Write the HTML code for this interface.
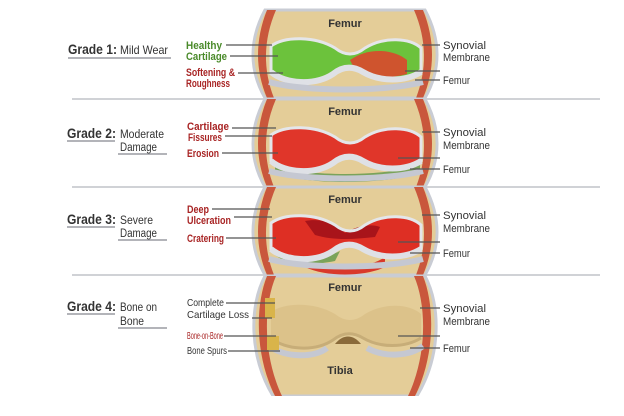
<!DOCTYPE html>
<html><head><meta charset="utf-8"><style>
html,body{margin:0;padding:0;background:#fff;width:624px;height:416px;overflow:hidden}
text{font-family:"Liberation Sans",sans-serif}
</style></head><body>
<svg width="624" height="416" viewBox="0 0 624 416" xmlns="http://www.w3.org/2000/svg">
<defs>
<path id="sil" d="M20,0 C4,30 4,60 20,88 L180,88 C196,60 196,30 180,0 Z"/>
<path id="redL" d="M22,0 C10,30 10,60 22,88 L29,88 C18,60 18,30 31,0 Z"/>
<path id="redR" d="M178,0 C190,30 190,60 178,88 L171,88 C182,60 182,30 169,0 Z"/>
<path id="cart" d="M26,36 C40,26 70,26 90,38 C100,46 110,46 120,38 C140,26 165,28 176,38 L176,62 C160,72 135,72 118,62 C108,56 98,56 88,64 C70,76 40,74 26,62 Z"/>
<path id="cartEdge" d="M26,62 C40,74 70,76 88,64 C98,56 108,56 118,62 C135,72 160,72 176,62" fill="none"/>
<path id="men" d="M24,72 C60,82 140,82 178,72" fill="none"/>
</defs>

<g stroke="#d0d2d6" stroke-width="2">
<line x1="72" y1="99" x2="600" y2="99"/>
<line x1="72" y1="187" x2="600" y2="187"/>
<line x1="72" y1="275" x2="600" y2="275"/>
</g>

<g transform="translate(245,10)">
<use href="#sil" fill="#e4cd98" stroke="#c9ccd4" stroke-width="3"/>
<use href="#redL" fill="#c9573c"/><use href="#redR" fill="#c9573c"/>
<use href="#cart" fill="#6cc23c"/>
<path d="M105,50 C125,36 150,40 162,50 L162,64 C140,70 122,66 110,60Z" fill="#e0412c" opacity="0.85"/>
<use href="#cart" fill="none" stroke="#e4e6ea" stroke-width="3"/>
<use href="#cartEdge" stroke="#dfe1e6" stroke-width="6"/>
<use href="#men" stroke="#c5c8d2" stroke-width="6"/>
<text x="100" y="17" font-size="11" font-weight="bold" text-anchor="middle" fill="#333">Femur</text>
</g>

<g transform="translate(245,99)">
<use href="#sil" fill="#e4cd98" stroke="#c9ccd4" stroke-width="3"/>
<use href="#redL" fill="#c9573c"/><use href="#redR" fill="#c9573c"/>
<path d="M30,66 C60,78 140,78 175,66 L175,74 C140,86 60,86 30,74Z" fill="#7aa35a"/>
<use href="#cart" fill="#e0362a"/>
<use href="#cart" fill="none" stroke="#e4e6ea" stroke-width="3"/>
<use href="#cartEdge" stroke="#dfe1e6" stroke-width="6"/>
<use href="#men" stroke="#c5c8d2" stroke-width="6"/>
<text x="100" y="16" font-size="11" font-weight="bold" text-anchor="middle" fill="#333">Femur</text>
</g>

<g transform="translate(245,187)">
<use href="#sil" fill="#e4cd98" stroke="#c9ccd4" stroke-width="3"/>
<use href="#redL" fill="#c9573c"/><use href="#redR" fill="#c9573c"/>
<path d="M60,70 C80,84 120,84 140,70 L140,80 C120,90 80,90 60,80Z" fill="#d9382a"/>
<path d="M30,60 C50,72 80,72 95,64 L90,74 C60,80 40,76 30,68Z" fill="#7aa35a"/>
<use href="#cart" fill="#de2f24"/>
<path d="M60,34 C80,30 95,40 100,46 C110,40 125,36 135,40 L130,50 C110,52 90,54 70,48Z" fill="#a8141a"/>
<use href="#cart" fill="none" stroke="#e4e6ea" stroke-width="3"/>
<use href="#cartEdge" stroke="#dfe1e6" stroke-width="6"/>
<use href="#men" stroke="#c5c8d2" stroke-width="6"/>
<text x="100" y="16" font-size="11" font-weight="bold" text-anchor="middle" fill="#333">Femur</text>
</g>

<g transform="translate(245,276)">
<path d="M20,0 C4,30 4,80 28,120 L172,120 C196,80 196,30 180,0 Z" fill="#e4cd98" stroke="#c9ccd4" stroke-width="3"/>
<path d="M22,0 C10,30 10,80 30,120 L37,120 C18,80 18,30 31,0 Z" fill="#c9573c"/>
<path d="M178,0 C190,30 190,80 170,120 L163,120 C182,80 182,30 169,0 Z" fill="#c9573c"/>
<use href="#cart" fill="#dcc28a"/>
<path d="M90,68 C98,58 108,58 116,68Z" fill="#8a6a3a"/>
<use href="#cartEdge" stroke="#c7ad78" stroke-width="3"/>
<path d="M24,70 C40,82 70,82 82,72 M122,72 C140,82 165,80 178,70" fill="none" stroke="#c5c8d2" stroke-width="6"/>
<rect x="20" y="22" width="10" height="20" fill="#d9b44a"/>
<rect x="22" y="60" width="12" height="14" fill="#d9b44a"/>
<text x="100" y="15" font-size="11" font-weight="bold" text-anchor="middle" fill="#333">Femur</text>
<text x="95" y="98" font-size="11" font-weight="bold" text-anchor="middle" fill="#333">Tibia</text>
</g>
<rect x="0" y="396" width="624" height="20" fill="#fff"/>

<g stroke="#555" stroke-width="1.3">
<line x1="226" y1="45" x2="272" y2="45"/><line x1="230" y1="56" x2="278" y2="56"/><line x1="238" y1="73" x2="283" y2="73"/>
<line x1="232" y1="128" x2="276" y2="128"/><line x1="225" y1="136" x2="272" y2="136"/><line x1="222" y1="153" x2="278" y2="153"/>
<line x1="212" y1="209" x2="270" y2="209"/><line x1="234" y1="217" x2="272" y2="217"/><line x1="226" y1="238" x2="276" y2="238"/>
<line x1="226" y1="303" x2="275" y2="303"/><line x1="252" y1="318" x2="272" y2="318"/><line x1="224" y1="336" x2="276" y2="336"/><line x1="228" y1="351" x2="280" y2="351"/>
<line x1="422" y1="45" x2="440" y2="45"/><line x1="405" y1="71" x2="440" y2="71"/><line x1="415" y1="80" x2="440" y2="80"/>
<line x1="422" y1="132" x2="440" y2="132"/><line x1="398" y1="158" x2="440" y2="158"/><line x1="410" y1="169" x2="440" y2="169"/>
<line x1="422" y1="215" x2="440" y2="215"/><line x1="398" y1="242" x2="440" y2="242"/><line x1="410" y1="253" x2="440" y2="253"/>
<line x1="420" y1="308" x2="440" y2="308"/><line x1="398" y1="336" x2="440" y2="336"/><line x1="410" y1="348" x2="440" y2="348"/>
</g>
<g stroke="#9a9ca2" stroke-width="1.5">
<line x1="68" y1="58" x2="171" y2="58"/>
<line x1="67" y1="141" x2="115" y2="141"/><line x1="118" y1="154" x2="167" y2="154"/>
<line x1="67" y1="227" x2="115" y2="227"/><line x1="118" y1="240" x2="167" y2="240"/>
<line x1="67" y1="314" x2="115" y2="314"/><line x1="118" y1="328" x2="167" y2="328"/>
</g>

<g fill="#333">
<text x="68" y="54" font-size="14" font-weight="bold" textLength="49" lengthAdjust="spacingAndGlyphs">Grade 1:</text>
<text x="120" y="54" font-size="12" textLength="48" lengthAdjust="spacingAndGlyphs">Mild Wear</text>
<text x="67" y="138" font-size="14" font-weight="bold" textLength="49" lengthAdjust="spacingAndGlyphs">Grade 2:</text>
<text x="120" y="138" font-size="11.5" textLength="44" lengthAdjust="spacingAndGlyphs">Moderate</text>
<text x="120" y="151" font-size="11.5" textLength="37" lengthAdjust="spacingAndGlyphs">Damage</text>
<text x="67" y="224" font-size="14" font-weight="bold" textLength="49" lengthAdjust="spacingAndGlyphs">Grade 3:</text>
<text x="120" y="224" font-size="11.5" textLength="33" lengthAdjust="spacingAndGlyphs">Severe</text>
<text x="120" y="237" font-size="11.5" textLength="37" lengthAdjust="spacingAndGlyphs">Damage</text>
<text x="67" y="311" font-size="14" font-weight="bold" textLength="49" lengthAdjust="spacingAndGlyphs">Grade 4:</text>
<text x="120" y="311" font-size="11.5" textLength="37" lengthAdjust="spacingAndGlyphs">Bone on</text>
<text x="120" y="325" font-size="11.5" textLength="24" lengthAdjust="spacingAndGlyphs">Bone</text>
</g>

<g font-size="11" font-weight="bold" lengthAdjust="spacingAndGlyphs">
<text x="186" y="49" fill="#4a8a2a" textLength="36" lengthAdjust="spacingAndGlyphs">Healthy</text>
<text x="186" y="60" fill="#4a8a2a" textLength="41" lengthAdjust="spacingAndGlyphs">Cartilage</text>
<text x="186" y="76" fill="#a82424" textLength="49" lengthAdjust="spacingAndGlyphs">Softening &amp;</text>
<text x="186" y="87" fill="#a82424" textLength="44" lengthAdjust="spacingAndGlyphs">Roughness</text>
<text x="187" y="130" fill="#a82424" textLength="42" lengthAdjust="spacingAndGlyphs">Cartilage</text>
<text x="188" y="141" fill="#a82424" textLength="34" lengthAdjust="spacingAndGlyphs">Fissures</text>
<text x="187" y="157" fill="#a82424" textLength="32" lengthAdjust="spacingAndGlyphs">Erosion</text>
<text x="187" y="213" fill="#a82424" textLength="22" lengthAdjust="spacingAndGlyphs">Deep</text>
<text x="187" y="224" fill="#a82424" textLength="44" lengthAdjust="spacingAndGlyphs">Ulceration</text>
<text x="187" y="242" fill="#a82424" textLength="37" lengthAdjust="spacingAndGlyphs">Cratering</text>
</g>
<g font-size="10.5" fill="#333">
<text x="187" y="306" textLength="37" lengthAdjust="spacingAndGlyphs">Complete</text>
<text x="187" y="318" textLength="62" lengthAdjust="spacingAndGlyphs">Cartilage Loss</text>
<text x="187" y="339" fill="#a82424" font-size="10" textLength="36" lengthAdjust="spacingAndGlyphs">Bone-on-Bone</text>
<text x="187" y="354" textLength="40" lengthAdjust="spacingAndGlyphs">Bone Spurs</text>
</g>

<g font-size="11" fill="#333">
<text x="443" y="49" textLength="43" lengthAdjust="spacingAndGlyphs">Synovial</text><text x="443" y="61" textLength="47" lengthAdjust="spacingAndGlyphs">Membrane</text><text x="443" y="84" textLength="27" lengthAdjust="spacingAndGlyphs">Femur</text>
<text x="443" y="136" textLength="43" lengthAdjust="spacingAndGlyphs">Synovial</text><text x="443" y="149" textLength="47" lengthAdjust="spacingAndGlyphs">Membrane</text><text x="443" y="173" textLength="27" lengthAdjust="spacingAndGlyphs">Femur</text>
<text x="443" y="219" textLength="43" lengthAdjust="spacingAndGlyphs">Synovial</text><text x="443" y="232" textLength="47" lengthAdjust="spacingAndGlyphs">Membrane</text><text x="443" y="257" textLength="27" lengthAdjust="spacingAndGlyphs">Femur</text>
<text x="443" y="312" textLength="43" lengthAdjust="spacingAndGlyphs">Synovial</text><text x="443" y="325" textLength="47" lengthAdjust="spacingAndGlyphs">Membrane</text><text x="443" y="352" textLength="27" lengthAdjust="spacingAndGlyphs">Femur</text>
</g>
</svg>
</body></html>
